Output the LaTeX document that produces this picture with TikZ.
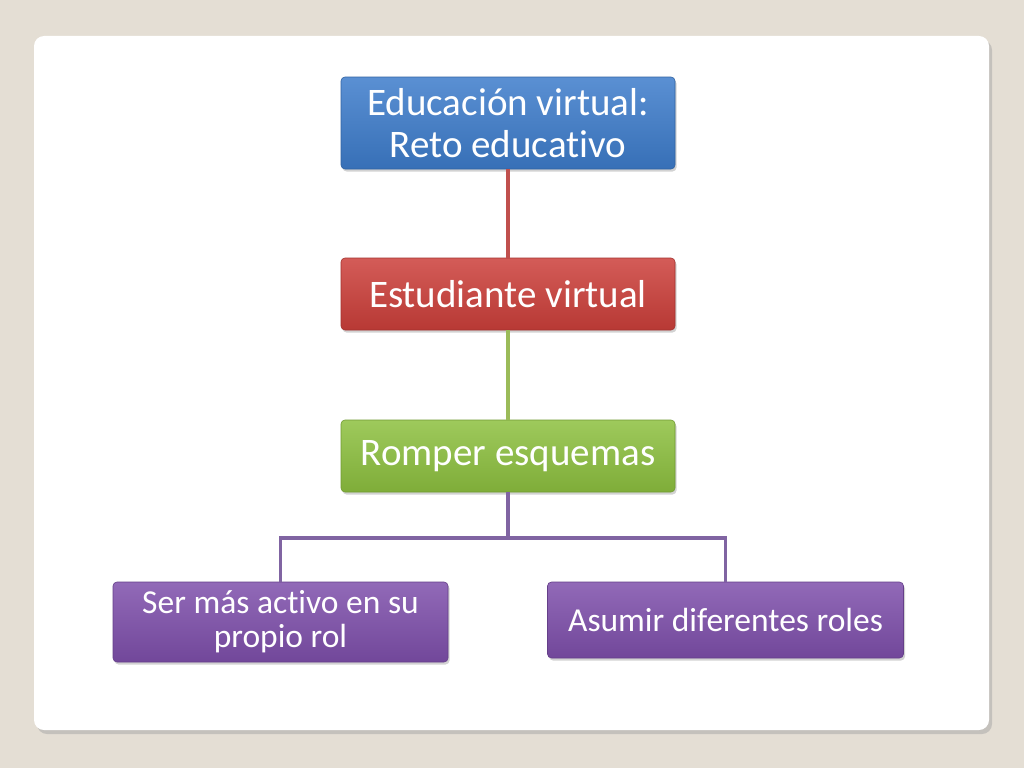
\documentclass[tikz,border=0pt]{standalone}
\usepackage{fontspec}
\setmainfont{Carlito}[Ligatures=NoCommon]
\usetikzlibrary{shadows}

\definecolor{bgbeige}{HTML}{E4DED4}
\definecolor{eduBlue}{HTML}{3D7CCB}
\definecolor{estRed}{HTML}{CC3F3A}
\definecolor{romGreen}{HTML}{8DC03F}
\definecolor{rolPurple}{HTML}{7E4FAB}
\definecolor{lnRed}{HTML}{C0504D}
\definecolor{lnGreen}{HTML}{9BBB59}
\definecolor{lnPurple}{HTML}{8064A2}

\tikzset{
  box/.style={rectangle,rounded corners=4pt,inner sep=0pt,align=center,text=white,
    draw=#1!80!black,line width=0.6pt,top color=#1!85!white,bottom color=#1!90!black,
    drop shadow={shadow xshift=1.5pt,shadow yshift=-2.5pt,opacity=0.35}},
  bigtxt/.style={font=\fontsize{39}{42}\selectfont},
  smalltxt/.style={font=\fontsize{33.5}{34}\selectfont},
  link/.style={line width=3.2pt,draw=#1}
}

\begin{document}
\begin{tikzpicture}[x=1pt,y=1pt]
\useasboundingbox(0,0)rectangle(1024,-768);
\fill[bgbeige](0,0)rectangle(1024,-768);
\fill[black!35,opacity=0.5,rounded corners=10pt](37,-40)rectangle(992,-734);
\fill[white,rounded corners=10pt](34,-36)rectangle(989,-730);
% boxes
\node[box=eduBlue,bigtxt,minimum width=334,minimum height=92](edu)at(508,-123){Educación virtual:\\Reto educativo};
\node[box=estRed,bigtxt,minimum width=334,minimum height=72](est)at(508,-294){Estudiante virtual};
\node[box=romGreen,bigtxt,minimum width=334,minimum height=72](rom)at(508,-456){Romper esquemas};
\node[box=rolPurple,smalltxt,minimum width=335,minimum height=80](ser)at(280.5,-622){Ser más activo en su\\propio rol};
\node[box=rolPurple,smalltxt,minimum width=356,minimum height=76](asu)at(725.5,-620){Asumir diferentes roles};
% connectors
\coordinate(split)at(508,-538);
\draw[link=lnRed](edu)--(est);
\draw[link=lnGreen](est)--(rom);
\draw[link=lnPurple](rom)--(split)-|(ser);
\draw[link=lnPurple](split)-|(asu);
\end{tikzpicture}
\end{document}
